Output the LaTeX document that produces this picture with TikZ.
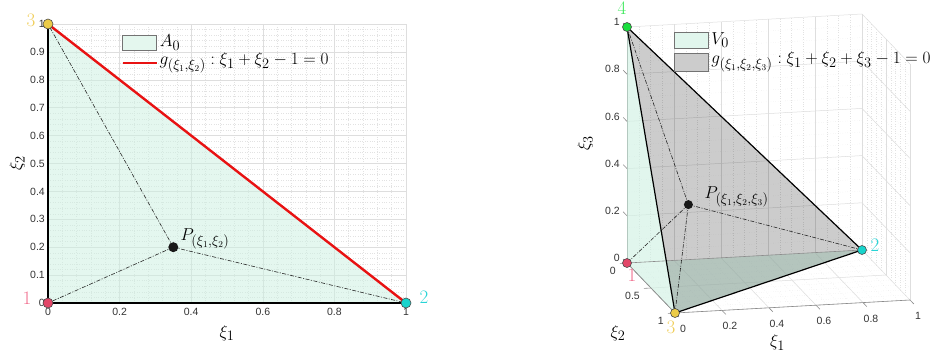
\documentclass[tikz,border=0pt]{standalone}
\usepackage{fontspec}
\newfontfamily\tickfont{Liberation Sans}
\usepackage{tikz}

\definecolor{mint}{RGB}{205,240,225}
\definecolor{gridc}{RGB}{222,222,222}
\definecolor{minc}{RGB}{226,226,226}
\definecolor{gline}{RGB}{232,18,18}
\definecolor{cone}{RGB}{226,70,104}
\definecolor{ctwo}{RGB}{24,212,204}
\definecolor{cthree}{RGB}{236,204,72}
\definecolor{cfour}{RGB}{26,222,62}
\definecolor{lone}{RGB}{240,108,140}
\definecolor{ltwo}{RGB}{40,212,214}
\definecolor{lthree}{RGB}{240,206,90}
\definecolor{lfour}{RGB}{62,232,92}

\tikzset{
  vmark/.style={circle,draw=black!70,line width=0.6pt,inner sep=0pt,minimum size=10pt},
  pmark/.style={circle,fill=black!90,inner sep=0pt,minimum size=10pt},
  dashdot/.style={black!85,line width=0.6pt,dash pattern=on 4pt off 1.5pt on 1pt off 1.5pt},
  majgrid/.style={gridc,line width=0.5pt},
  mingrid/.style={minc,line width=0.4pt,dotted},
  axline/.style={black!45,line width=0.6pt},
  ticklab/.style={font=\tickfont\fontsize{10.5}{12}\selectfont,text=black!80,inner sep=1pt},
  mathlab/.style={font=\fontsize{19}{22}\selectfont,inner sep=1pt},
  legbox/.style={draw=black!55,line width=0.5pt,inner sep=0pt,minimum width=34pt},
}

\begin{document}
\begin{tikzpicture}[x=1pt,y=1pt]
\useasboundingbox (0,0) rectangle (946,354);

% left picture, area A_0
\begin{scope}[shift={(48,51)},x=358pt,y=279pt]
  \foreach \i in {1,...,24} \draw[mingrid] (\i*0.04,0) -- (\i*0.04,1);
  \foreach \j in {1,...,49} \draw[mingrid] (0,\j*0.02) -- (1,\j*0.02);
  \foreach \i in {1,...,5} \draw[majgrid] (\i*0.2,0) -- (\i*0.2,1);
  \foreach \j in {1,...,10} \draw[majgrid] (0,\j*0.1) -- (1,\j*0.1);

  \coordinate (a1) at (0,0);
  \coordinate (a2) at (1,0);
  \coordinate (a3) at (0,1);
  \coordinate (pa) at (0.35,0.2);

  \fill[mint,fill opacity=0.55] (a1) -- (a2) -- (a3) -- cycle;

  \foreach \t [count=\k] in {0,0.2,0.4,0.6,0.8,1}
    \node[ticklab,anchor=north,yshift=-4pt] (ax\k) at (\t,0) {\t};
  \foreach \t [count=\k] in {0,0.1,0.2,0.3,0.4,0.5,0.6,0.7,0.8,0.9,1}
    \node[ticklab,anchor=east,xshift=-2pt] (ay\k) at (0,\t) {\t};
  \node[mathlab,yshift=-30pt] (xla) at (0.5,0) {$\xi_1$};
  \node[mathlab,xshift=-31pt,rotate=90] (yla) at (0,0.5) {$\xi_2$};

  \draw[dashdot] (pa) -- (a1);
  \draw[dashdot] (pa) -- (a2);
  \draw[dashdot] (pa) -- (a3);
  \draw[line width=2.4pt] (a3) -- (a1) -- (a2);
  \draw[gline,line width=2.4pt] (a3) -- (a2);

  \node[vmark,fill=cone] (m1) at (a1) {};
  \node[vmark,fill=ctwo] (m2) at (a2) {};
  \node[vmark,fill=cthree] (m3) at (a3) {};
  \node[pmark] (mp) at (pa) {};

  \node[mathlab,text=lone,xshift=-21pt,yshift=5pt] (n1) at (a1) {1};
  \node[mathlab,text=ltwo,xshift=18pt,yshift=6pt] (n2) at (a2) {2};
  \node[mathlab,text=lthree,xshift=-17pt,yshift=4pt] (n3) at (a3) {3};
  \node[mathlab,anchor=west,xshift=6pt,yshift=8pt] (np) at (pa) {$P_{(\xi_1,\xi_2)}$};
\end{scope}

\node[legbox,fill=mint!55,minimum height=15pt] (lb1) at (139.5,311.5) {};
\node[mathlab,anchor=west,xshift=2pt] (lt1) at (lb1.east) {$A_0$};
\coordinate (lr0) at (122.5,291);
\draw[gline,line width=2.4pt] (lr0) -- ++(34,0) coordinate (lr1);
\node[mathlab,anchor=west,xshift=2pt] (lt2) at (lr1) {$g_{(\xi_1,\xi_2)}:\xi_1+\xi_2-1=0$};

% right picture, volume V_0
\begin{scope}[shift={(627,91)},x={(235pt,13pt)},y={(48pt,-50pt)},z={(0pt,236pt)}]
  \foreach \i in {1,...,19} {
    \draw[mingrid] (\i/20,0,0) -- (\i/20,0,1);
    \draw[mingrid] (0,0,\i/20) -- (1,0,\i/20);
    \draw[mingrid] (\i/20,0,0) -- (\i/20,1,0);
    \draw[mingrid] (1,0,\i/20) -- (1,1,\i/20);
  }
  \foreach \j in {1,...,9} {
    \draw[mingrid] (0,\j/10,0) -- (1,\j/10,0);
    \draw[mingrid] (1,\j/10,0) -- (1,\j/10,1);
  }
  \foreach \i in {1,...,5} {
    \draw[majgrid] (\i/5,0,0) -- (\i/5,0,1);
    \draw[majgrid] (0,0,\i/5) -- (1,0,\i/5);
    \draw[majgrid] (\i/5,0,0) -- (\i/5,1,0);
    \draw[majgrid] (1,0,\i/5) -- (1,1,\i/5);
  }
  \foreach \j in {0.5,1} {
    \draw[majgrid] (0,\j,0) -- (1,\j,0);
    \draw[majgrid] (1,\j,0) -- (1,\j,1);
  }

  \coordinate (b1) at (0,0,0);
  \coordinate (b2) at (1,0,0);
  \coordinate (b3) at (0,1,0);
  \coordinate (b4) at (0,0,1);
  \coordinate (pb) at (0.2,0.3,0.3);

  \draw[axline] (b3) -- (1,1,0);
  \draw[axline] (b1) -- (b3);
  \draw[axline] (b1) -- (b4);
  \foreach \t [count=\k] in {0,0.2,0.4,0.6,0.8,1} {
    \draw[axline] (\t,1,0) -- (\t,1.08,0);
    \node[ticklab,anchor=north,xshift=8pt,yshift=-11pt] (bx\k) at (\t,1,0) {\t};
    \draw[axline] (0,0,\t) -- (0,-0.08,\t);
    \node[ticklab,anchor=east,xshift=-6pt,yshift=5pt] (bz\k) at (0,0,\t) {\t};
  }
  \foreach \t [count=\k] in {0,0.5,1} {
    \draw[axline] (0,\t,0) -- (-0.03,\t,0);
    \node[ticklab,anchor=east,xshift=-10pt,yshift=-8pt] (by\k) at (0,\t,0) {\t};
  }
  \node[mathlab,xshift=-15pt,yshift=-36pt] (xlb) at (0.5,1,0) {$\xi_1$};
  \node[mathlab,xshift=-57pt,yshift=-20pt] (ylb) at (b3) {$\xi_2$};
  \node[mathlab,xshift=-42pt,yshift=2pt,rotate=90] (zlb) at (0,0,0.5) {$\xi_3$};

  \fill[mint,fill opacity=0.6] (b1) -- (b2) -- (b3) -- cycle (b1) -- (b4) -- (b3) -- cycle;
  \fill[black,fill opacity=0.2] (b2) -- (b3) -- (b4) -- cycle;
  \draw[axline] (b1) -- (b2);
  \draw[axline] (b1) -- (b3);

  \draw[dashdot] (pb) -- (b1);
  \draw[dashdot] (pb) -- (b2);
  \draw[dashdot] (pb) -- (b3);
  \draw[dashdot] (pb) -- (b4);
  \draw[line width=1.2pt] (b4) -- (b2) -- (b3) -- cycle;

  \node[vmark,fill=cone,minimum size=9pt] (k1) at (b1) {};
  \node[vmark,fill=ctwo,minimum size=9pt] (k2) at (b2) {};
  \node[vmark,fill=cthree,minimum size=9pt] (k3) at (b3) {};
  \node[vmark,fill=cfour,minimum size=9pt] (k4) at (b4) {};
  \node[pmark,minimum size=9pt] (kp) at (pb) {};

  \node[mathlab,text=lone,xshift=5pt,yshift=-12pt] (q1) at (b1) {1};
  \node[mathlab,text=ltwo,xshift=13pt,yshift=5pt] (q2) at (b2) {2};
  \node[mathlab,text=lthree,xshift=-4pt,yshift=-14pt] (q3) at (b3) {3};
  \node[mathlab,text=lfour,xshift=-5pt,yshift=18.5pt] (q4) at (b4) {4};
  \node[mathlab,anchor=west,xshift=15pt,yshift=8pt] (qp) at (pb) {$P_{(\xi_1,\xi_2,\xi_3)}$};
\end{scope}

\node[legbox,fill=mint!60,minimum height=16pt] (rb1) at (691,314) {};
\node[mathlab,anchor=west,xshift=2pt] (rt1) at (rb1.east) {$V_0$};
\node[legbox,fill=black!20,minimum height=18pt] (rb2) at (691,292) {};
\node[mathlab,anchor=west,xshift=2pt] (rt2) at (rb2.east) {$g_{(\xi_1,\xi_2,\xi_3)}:\xi_1+\xi_2+\xi_3-1=0$};
\end{tikzpicture}
\end{document}
